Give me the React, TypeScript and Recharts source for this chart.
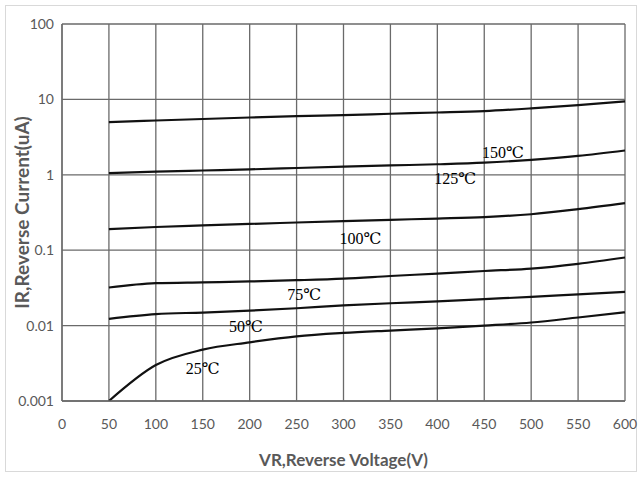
import React from "react";
import {
  LineChart,
  Line,
  XAxis,
  YAxis,
  CartesianGrid,
  ReferenceDot,
} from "recharts";

// reverse voltage (V)
const voltages = [50, 100, 150, 200, 250, 300, 350, 400, 450, 500, 550, 600];

// reverse current (uA) per junction temperature
const ir25 = [0.001, 0.003, 0.0048, 0.006, 0.0072, 0.008, 0.0086, 0.0092, 0.01, 0.011, 0.0128, 0.015];
const ir50 = [0.0123, 0.0142, 0.0149, 0.0158, 0.017, 0.0185, 0.0198, 0.021, 0.0225, 0.024, 0.026, 0.028];
const ir75 = [0.032, 0.0365, 0.0375, 0.0385, 0.04, 0.042, 0.0455, 0.049, 0.053, 0.057, 0.066, 0.08];
const ir100 = [0.19, 0.203, 0.213, 0.223, 0.233, 0.243, 0.253, 0.263, 0.275, 0.3, 0.35, 0.42];
const ir125 = [1.05, 1.1, 1.14, 1.18, 1.23, 1.28, 1.33, 1.38, 1.45, 1.58, 1.78, 2.1];
const ir150 = [5.0, 5.25, 5.5, 5.75, 6.0, 6.2, 6.45, 6.7, 7.0, 7.6, 8.4, 9.4];

const xTicks = [0, 50, 100, 150, 200, 250, 300, 350, 400, 450, 500, 550, 600];
const yTicks = [0.001, 0.01, 0.1, 1, 10, 100];

// curve labels: [text, voltage, current]
const curveLabels: [string, number, number][] = [
  ["150℃", 470, 1.98],
  ["125℃", 419, 0.91],
  ["100℃", 318, 0.145],
  ["75℃", 258, 0.026],
  ["50℃", 196, 0.0097],
  ["25℃", 150, 0.0027],
];

const data = voltages.map((v, i) => ({
  v,
  t25: ir25[i],
  t50: ir50[i],
  t75: ir75[i],
  t100: ir100[i],
  t125: ir125[i],
  t150: ir150[i],
}));

const series = ["t25", "t50", "t75", "t100", "t125", "t150"];

const gridColor = "#6a6a6a";
const textColor = "#595959";
const sans = "Lato, 'Open Sans', sans-serif";
const tickFont = { fontFamily: sans, fontSize: 14, fill: textColor };

export default function App() {
  return (
    <div style={{ position: "absolute", left: 0, top: 0, width: 642, height: 478, background: "#fff" }}>
      <div
        style={{
          position: "absolute",
          left: 5,
          top: 5,
          width: 630,
          height: 465,
          border: "1px solid #d9d9d9",
        }}
      />
      <LineChart
        width={642}
        height={478}
        data={data}
        margin={{ top: 24, right: 17, left: 0, bottom: 47 }}
        style={{ position: "absolute", left: 0, top: 0 }}
      >
        <CartesianGrid stroke={gridColor} strokeWidth={1.3} />
        <XAxis
          dataKey="v"
          type="number"
          domain={[0, 600]}
          ticks={xTicks}
          height={30}
          tickLine={false}
          axisLine={{ stroke: gridColor, strokeWidth: 1.3 }}
          tick={tickFont}
          tickMargin={12}
          label={{
            value: "VR,Reverse Voltage(V)",
            position: "center",
            dy: 44,
            style: { fontFamily: sans, fontSize: 17, fontWeight: 700, fill: textColor },
          }}
        />
        <YAxis
          scale="log"
          domain={[0.001, 100]}
          ticks={yTicks}
          allowDataOverflow
          width={62}
          tickLine={false}
          axisLine={{ stroke: gridColor, strokeWidth: 1.3 }}
          tick={tickFont}
          tickFormatter={(t: number) => String(t)}
          label={{
            value: "IR,Reverse Current(uA)",
            angle: -90,
            position: "center",
            dx: -9,
            style: { fontFamily: sans, fontSize: 19, fontWeight: 700, fill: textColor },
          }}
        />
        {series.map((k) => (
          <Line
            key={k}
            dataKey={k}
            type="monotone"
            stroke="#111"
            strokeWidth={2.2}
            dot={false}
            isAnimationActive={false}
          />
        ))}
        {curveLabels.map(([text, x, y]) => (
          <ReferenceDot
            key={text}
            x={x}
            y={y}
            r={0}
            fill="none"
            stroke="none"
            label={{
              value: text,
              position: "center",
              style: { fontFamily: "'Liberation Serif', 'DejaVu Serif', serif", fontSize: 16, fill: "#000" },
            }}
          />
        ))}
      </LineChart>
    </div>
  );
}
